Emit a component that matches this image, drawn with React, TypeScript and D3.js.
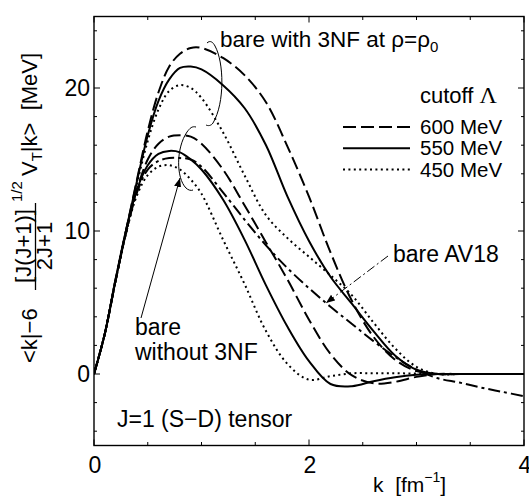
import React from "react";
import * as d3 from "d3";

const kGrid = [0, 0.1, 0.2, 0.3, 0.4, 0.5, 0.6, 0.7, 0.8, 0.9, 1.0, 1.2, 1.4, 1.6, 1.8, 2.0, 2.2, 2.4, 2.6, 2.8, 3.0, 3.2, 3.4, 3.6, 3.8, 4.0];

const with3nf600 = [0, 2.8, 6.5, 10.1, 13.6, 17.0, 19.7, 21.5, 22.4, 22.8, 22.8, 22.1, 20.9, 19.0, 15.9, 12.4, 8.5, 5.1, 2.6, 1.0, 0.2, 0, 0, 0, 0, 0];
const with3nf550 = [0, 2.8, 6.5, 10.1, 13.5, 16.7, 19.1, 20.6, 21.4, 21.5, 21.3, 20.2, 18.6, 16.0, 12.4, 9.3, 6.8, 4.9, 3.0, 1.3, 0.3, 0, 0, 0, 0, 0];
const with3nf450 = [0, 2.8, 6.5, 10.0, 13.3, 16.3, 18.5, 19.8, 20.2, 20.0, 19.3, 16.9, 13.9, 11.1, 9.5, 8.2, 6.9, 5.5, 3.6, 1.8, 0.5, 0, 0, 0, 0, 0];
const bare600 = [0, 2.8, 6.5, 10.0, 12.9, 15.0, 16.1, 16.6, 16.7, 16.6, 16.1, 14.3, 11.8, 9.2, 6.6, 3.8, 1.4, -0.1, -0.65, -0.55, -0.2, 0, 0, 0, 0, 0];
const bare550 = [0, 2.8, 6.6, 10.1, 12.9, 14.6, 15.4, 15.6, 15.5, 15.0, 14.3, 12.2, 9.4, 6.2, 3.3, 0.9, -0.7, -0.85, -0.5, -0.22, -0.05, 0, 0, 0, 0, 0];
const bare450 = [0, 2.8, 6.6, 9.9, 12.5, 13.9, 14.5, 14.6, 14.3, 13.6, 12.6, 9.4, 6.3, 3.0, 0.7, -0.4, -0.15, 0.05, 0.05, 0.05, 0.03, 0, 0, 0, 0, 0];
const bareAV18 = [0, 2.8, 6.5, 9.9, 12.7, 14.3, 14.9, 15.1, 15.1, 15.0, 14.5, 12.7, 10.8, 9.0, 7.4, 6.0, 4.7, 3.5, 2.3, 1.2, 0.3, -0.3, -0.6, -0.95, -1.25, -1.55];

const xTickLabels = [0, 2, 4];
const yTickLabels = [0, 10, 20];
const legendLabels = ["600 MeV", "550 MeV", "450 MeV"];

const DASH = "13,5";
const DOT = "2,3.4";
const DASHDOT = "12,4,3,4";

const FONT = "'Liberation Sans', Arial, Helvetica, sans-serif";

export default function App() {
  const x = d3.scaleLinear().domain([0, 4]).range([94, 524]);
  const y = d3.scaleLinear().domain([-5, 25]).range([445.5, 16.5]);
  const line = d3
    .line<number>()
    .x((_, i) => x(kGrid[i]))
    .y((d) => y(d))
    .curve(d3.curveCatmullRom.alpha(0.5));

  const series = [
    { v: with3nf600, dash: DASH },
    { v: with3nf550, dash: "none" },
    { v: with3nf450, dash: DOT },
    { v: bare600, dash: DASH },
    { v: bare550, dash: "none" },
    { v: bare450, dash: DOT },
    { v: bareAV18, dash: DASHDOT },
  ];

  const xTicks = d3.range(0, 4.01, 0.5);
  const yTicks = d3.range(-4, 25, 2);
  const [x0, x1] = x.range();
  const [yb, yt] = y.range();

  const legendDash = [DASH, "none", DOT];

  return (
    <div style={{ position: "absolute", left: 0, top: 0 }}>
      <svg width={529} height={497} style={{ display: "block", background: "#fff" }} fontFamily={FONT}>
        <defs>
          <clipPath id="plot">
            <rect x={x0} y={yt} width={x1 - x0} height={yb - yt} />
          </clipPath>
          <marker id="ah" viewBox="0 0 10 10" refX="10" refY="5" markerWidth="9" markerHeight="9" markerUnits="userSpaceOnUse" orient="auto">
            <path d="M0,1 L10,5 L0,9 z" fill="#000" />
          </marker>
        </defs>

        {/* curves */}
        <g clipPath="url(#plot)">
          {series.map((s, i) => (
            <path key={i} d={line(s.v) || ""} fill="none" stroke="#000" strokeWidth={2} strokeDasharray={s.dash} />
          ))}
        </g>

        {/* frame */}
        <rect x={x0} y={yt} width={x1 - x0} height={yb - yt} fill="none" stroke="#000" strokeWidth={1.4} />

        {/* x ticks */}
        {xTicks.map((t) => {
          const len = xTickLabels.includes(t) ? 6 : 3.5;
          return (
            <g key={"xt" + t}>
              <line x1={x(t)} x2={x(t)} y1={yb} y2={yb - len} stroke="#000" strokeWidth={1} />
              <line x1={x(t)} x2={x(t)} y1={yt} y2={yt + len} stroke="#000" strokeWidth={1} />
            </g>
          );
        })}
        {xTickLabels.map((t) => (
          <text key={"xl" + t} x={x(t) + 1} y={473} fontSize={23} textAnchor="middle">
            {t}
          </text>
        ))}

        {/* y ticks */}
        {yTicks.map((t) => {
          const len = yTickLabels.includes(t) ? 6 : 3;
          return (
            <g key={"yt" + t}>
              <line x1={x0} x2={x0 + len} y1={y(t)} y2={y(t)} stroke="#000" strokeWidth={1} />
              <line x1={x1} x2={x1 - len} y1={y(t)} y2={y(t)} stroke="#000" strokeWidth={1} />
            </g>
          );
        })}
        {yTickLabels.map((t) => (
          <text key={"yl" + t} x={90} y={y(t) + 8} fontSize={23} textAnchor="end">
            {t}
          </text>
        ))}

        {/* x axis title */}
        <text x={373} y={492} fontSize={21}>
          k{"\u00a0\u00a0"}[fm
          <tspan dy={-10} fontSize={14}>
            −1
          </tspan>
          <tspan dy={10}>]</tspan>
        </text>

        {/* y axis title (rotated) */}
        <g transform="rotate(-90)" fontSize={22}>
          <text x={-363} y={37}>
            {"<k|−6"}
          </text>
          <text x={-246} y={31} textAnchor="middle">
            [J(J+1)]
          </text>
          <text x={-202} y={22} fontSize={15}>
            1/2
          </text>
          <line x1={-290} x2={-203} y1={35.5} y2={35.5} stroke="#000" strokeWidth={1.3} />
          <text x={-246} y={52} textAnchor="middle">
            2J+1
          </text>
          <text x={-176} y={37}>
            V
            <tspan dy={5} fontSize={15}>
              T
            </tspan>
            <tspan dy={-5}>{"|k>\u00a0\u00a0[MeV]"}</tspan>
          </text>
        </g>

        {/* legend */}
        <text x={420} y={103} fontSize={22}>
          cutoff{" "}
          <tspan fontFamily="'Liberation Serif', 'Times New Roman', serif" fontSize={24}>
            Λ
          </tspan>
        </text>
        {legendLabels.map((l, i) => (
          <g key={l}>
            <line x1={343} x2={410} y1={127 + i * 21.3} y2={127 + i * 21.3} stroke="#000" strokeWidth={2} strokeDasharray={legendDash[i]} />
            <text x={420} y={134 + i * 21.3} fontSize={20.5}>
              {l}
            </text>
          </g>
        ))}

        {/* annotations */}
        <text x={220} y={47} fontSize={22.5}>
          bare with 3NF at ρ=ρ
          <tspan dy={5} fontSize={15}>
            0
          </tspan>
        </text>
        <path d="M207,43 C210,40 213,42 215,46 C224,62 225,103 213,123 C211,126 208,126 206,125" fill="none" stroke="#000" strokeWidth={1} />
        <path d="M196,127 C192,126 190,128 187,132 C176,148 176,178 186,188 C188,190 191,191 193,190" fill="none" stroke="#000" strokeWidth={1} />

        <text x={393} y={262} fontSize={23}>
          bare AV18
        </text>
        <line x1={388} y1={256} x2={326} y2={303} stroke="#000" strokeWidth={1} strokeDasharray="9,3,2,3" markerEnd="url(#ah)" />

        <text x={135} y={335} fontSize={23}>
          bare
        </text>
        <text x={135} y={360} fontSize={23}>
          without 3NF
        </text>
        <line x1={141} y1={318} x2={180} y2={178} stroke="#000" strokeWidth={1} markerEnd="url(#ah)" />

        <text x={117} y={427} fontSize={23}>
          J=1 (S−D) tensor
        </text>
      </svg>
    </div>
  );
}
